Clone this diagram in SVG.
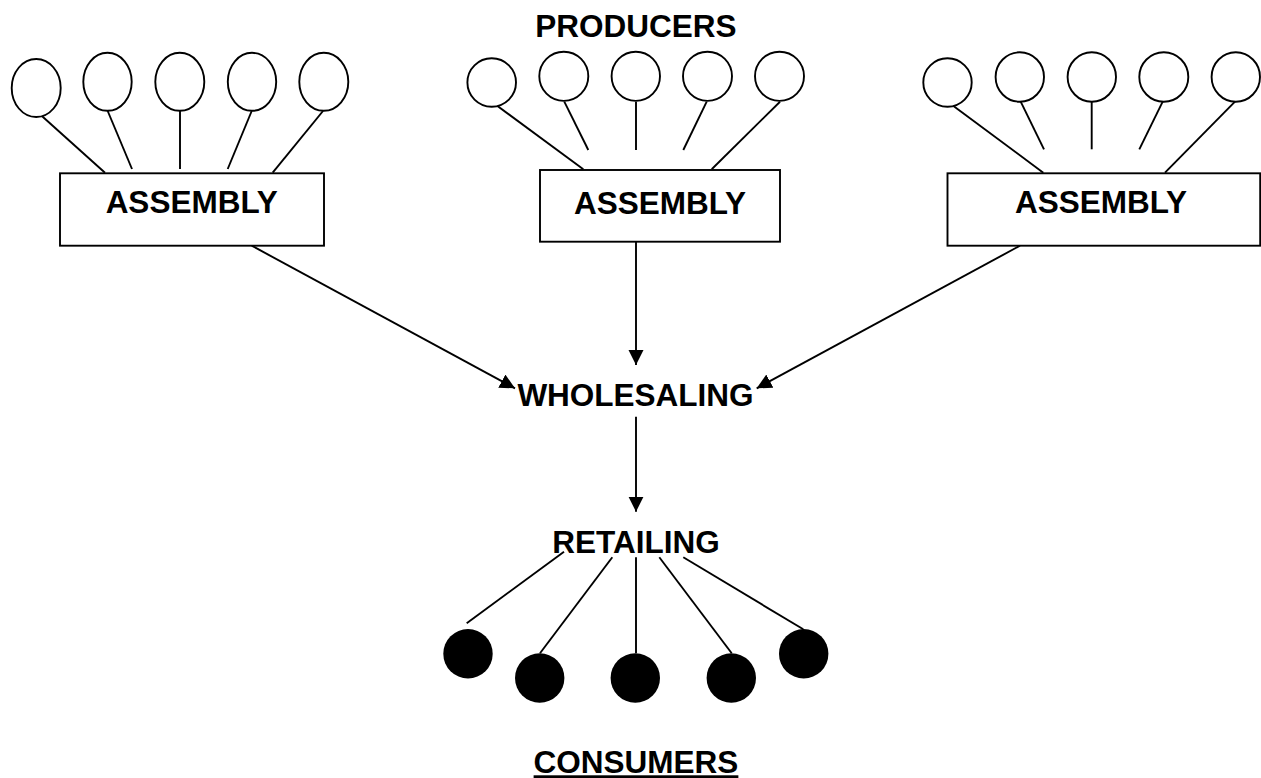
<svg xmlns="http://www.w3.org/2000/svg" width="1261" height="778" viewBox="0 0 1261 778">
<style>
.bg{fill:#fff}
.p{fill:#fff;stroke:#000;stroke-width:1.9}
.c{fill:#000;stroke:none}
.box{fill:#fff;stroke:#000;stroke-width:1.9}
.ln{stroke:#000;stroke-width:1.9;fill:none}
.t{font-family:"Liberation Sans",Arial,sans-serif;font-weight:bold;font-size:31.5px;fill:#000;text-anchor:middle}
</style>
<defs>
<marker id="ah" markerUnits="userSpaceOnUse" markerWidth="16" markerHeight="16" refX="15" refY="7.5" orient="auto">
<path d="M0,0 L15,7.5 L0,15 Z" fill="#000"/>
</marker>
</defs>
<rect class="bg" x="0" y="0" width="1261" height="778"/>

<g id="connectors">
<line class="ln" x1="36" y1="110.7" x2="105" y2="172.7"/>
<line class="ln" x1="107.7" y1="111" x2="132" y2="169"/>
<line class="ln" x1="180" y1="111" x2="180" y2="169"/>
<line class="ln" x1="251.7" y1="111" x2="227.7" y2="169"/>
<line class="ln" x1="323" y1="111" x2="272.7" y2="172.7"/>
<line class="ln" x1="491.7" y1="101.7" x2="583.3" y2="169.3"/>
<line class="ln" x1="564.3" y1="101.7" x2="588.3" y2="150"/>
<line class="ln" x1="636" y1="101.7" x2="636" y2="150"/>
<line class="ln" x1="706.7" y1="101.7" x2="683.3" y2="150"/>
<line class="ln" x1="780" y1="101.7" x2="711.7" y2="169.3"/>
<line class="ln" x1="946.7" y1="101" x2="1043.3" y2="172.7"/>
<line class="ln" x1="1020.7" y1="101.7" x2="1044" y2="149.3"/>
<line class="ln" x1="1091.7" y1="101.7" x2="1091.7" y2="149.3"/>
<line class="ln" x1="1162.7" y1="101.7" x2="1139.3" y2="149.3"/>
<line class="ln" x1="1235" y1="101.7" x2="1165" y2="172.7"/>
<line class="ln" x1="251.7" y1="245.7" x2="515" y2="388.3" marker-end="url(#ah)"/>
<line class="ln" x1="636" y1="242" x2="636" y2="365" marker-end="url(#ah)"/>
<line class="ln" x1="1020" y1="245.7" x2="756.7" y2="388.3" marker-end="url(#ah)"/>
<line class="ln" x1="636" y1="416.7" x2="636" y2="511.7" marker-end="url(#ah)"/>
<line class="ln" x1="564" y1="551.7" x2="466.7" y2="623.3"/>
<line class="ln" x1="612.3" y1="557.3" x2="540" y2="653.3"/>
<line class="ln" x1="636" y1="557.3" x2="636" y2="653.3"/>
<line class="ln" x1="659.3" y1="557.3" x2="731.7" y2="653.3"/>
<line class="ln" x1="683.3" y1="557.3" x2="803.3" y2="629.3"/>
</g>

<g id="producers-label"><text class="t" x="636" y="36.7">PRODUCERS</text></g>

<g id="producers-left">
<ellipse class="p" cx="36.2" cy="88" rx="24.5" ry="29"/>
<ellipse class="p" cx="107.5" cy="81.8" rx="24.2" ry="29"/>
<ellipse class="p" cx="179.8" cy="81.8" rx="24.5" ry="29"/>
<ellipse class="p" cx="252" cy="81.8" rx="24.2" ry="29"/>
<ellipse class="p" cx="323.8" cy="81.8" rx="24.5" ry="29"/>
</g>
<g id="producers-middle">
<ellipse class="p" cx="491.7" cy="82.5" rx="24.3" ry="24.2"/>
<ellipse class="p" cx="563.8" cy="76.3" rx="24.5" ry="24.6"/>
<ellipse class="p" cx="635.8" cy="76.3" rx="24.2" ry="24.6"/>
<ellipse class="p" cx="707.5" cy="76.3" rx="24.5" ry="24.6"/>
<ellipse class="p" cx="779.5" cy="76.3" rx="24.5" ry="24.6"/>
</g>
<g id="producers-right">
<ellipse class="p" cx="947.5" cy="82.5" rx="24.2" ry="24.2"/>
<ellipse class="p" cx="1019.8" cy="77" rx="24.2" ry="24.7"/>
<ellipse class="p" cx="1091.8" cy="77" rx="24.2" ry="24.7"/>
<ellipse class="p" cx="1163.8" cy="77" rx="24.5" ry="24.7"/>
<ellipse class="p" cx="1235.8" cy="77" rx="24.2" ry="24.7"/>
</g>

<g id="assembly-left">
<rect class="box" x="60" y="173.3" width="264" height="72.4"/>
<text class="t" x="191.7" y="212.7">ASSEMBLY</text>
</g>
<g id="assembly-middle">
<rect class="box" x="540" y="170" width="240" height="71.7"/>
<text class="t" x="660" y="213.5">ASSEMBLY</text>
</g>
<g id="assembly-right">
<rect class="box" x="947.5" y="173.3" width="312.7" height="72.4"/>
<text class="t" x="1101" y="212.7">ASSEMBLY</text>
</g>

<g id="wholesaling"><text class="t" x="635.5" y="405.7">WHOLESALING</text></g>
<g id="retailing"><text class="t" x="636" y="553.3">RETAILING</text></g>

<g id="consumers">
<circle class="c" cx="468" cy="653.7" r="24.7"/>
<circle class="c" cx="539.7" cy="678" r="24.7"/>
<circle class="c" cx="635.3" cy="678" r="24.7"/>
<circle class="c" cx="731.3" cy="678" r="24.7"/>
<circle class="c" cx="803.7" cy="653.7" r="24.7"/>
</g>
<g id="consumers-label"><text class="t" x="636" y="773.3" text-decoration="underline">CONSUMERS</text></g>
</svg>
